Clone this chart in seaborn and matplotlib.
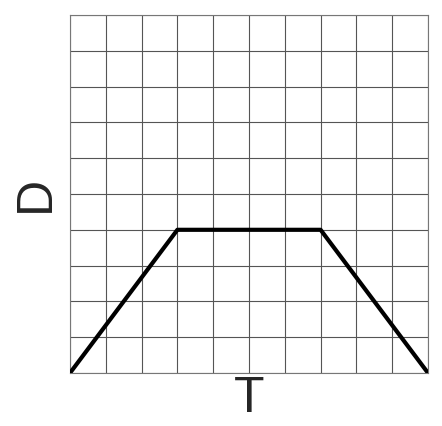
import numpy as np
import pandas as pd
import matplotlib
matplotlib.use('Agg')
import matplotlib.pyplot as plt
import seaborn as sns

# time / distance points of the trapezoid
t_vals = [0, 3, 7, 10]
d_vals = [0, 4, 4, 0]

sns.set_style("white")
plt.rcParams['font.family'] = ['Liberation Sans', 'DejaVu Sans']

fig = plt.figure(figsize=(4.42, 4.26), dpi=100)
ax = fig.add_axes([70/442, 53/426, 358/442, 358/426])

df = pd.DataFrame({'T': t_vals, 'D': d_vals})
sns.lineplot(data=df, x='T', y='D', ax=ax, color='black', linewidth=3.0,
             sort=False, zorder=3)

ax.set_xlim(0, 10)
ax.set_ylim(0, 10)
ax.set_xticks(np.arange(0, 11))
ax.set_yticks(np.arange(0, 11))
ax.grid(True, color='#555555', linewidth=0.8)
ax.tick_params(length=0, labelbottom=False, labelleft=False)
for s in ax.spines.values():
    s.set_color('#777777')
    s.set_linewidth(0.8)

ax.set_xlabel('T', fontsize=36, labelpad=2)
ax.set_ylabel('D', fontsize=36, labelpad=8)

plt.savefig('out.png', dpi=100)
plt.close()
